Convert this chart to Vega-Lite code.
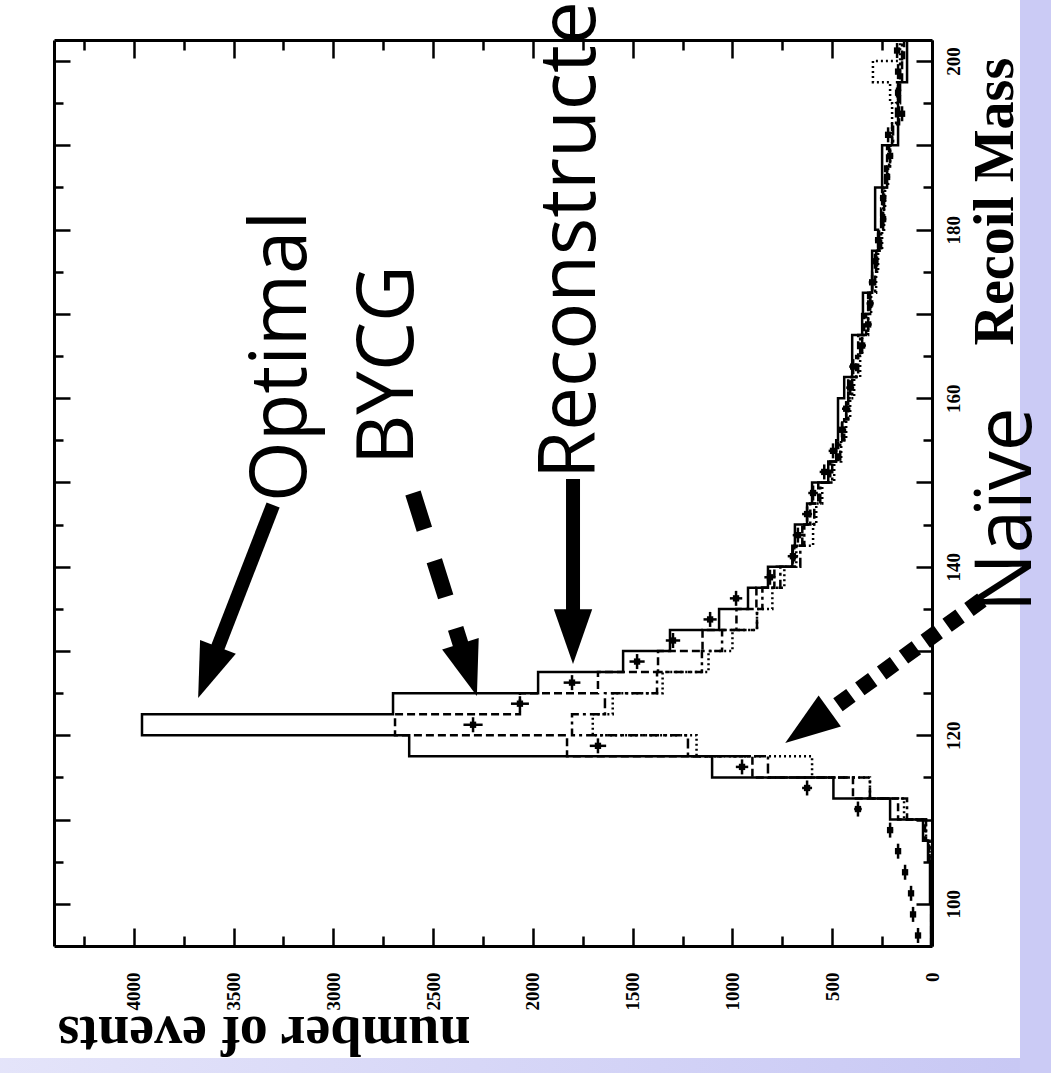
{
  "$schema": "https://vega.github.io/schema/vega-lite/v6.json",
  "autosize": "none",
  "width": 878,
  "height": 906,
  "padding": {"left": 54, "top": 40, "right": 119, "bottom": 127},
  "background": "white",
  "config": {
    "view": {"stroke": null},
    "axis": {
      "domainColor": "black", "domainWidth": 3, "tickColor": "black", "tickWidth": 2.5,
      "labelFont": "Liberation Serif", "labelFontWeight": "bold", "labelFontSize": 19, "labelColor": "black",
      "titleFont": "Liberation Serif", "titleFontWeight": "bold", "titleFontSize": 56, "titleColor": "black",
      "grid": false, "zindex": 1
    }
  },
  "resolve": {"axis": {"x": "independent", "y": "independent"}},
  "datasets": {
    "hist": [
      {"s":"optimal","m":95,"n":5},{"s":"optimal","m":97.5,"n":5},{"s":"optimal","m":100,"n":10},{"s":"optimal","m":102.5,"n":10},{"s":"optimal","m":105,"n":20},{"s":"optimal","m":107.5,"n":45},{"s":"optimal","m":110,"n":210},{"s":"optimal","m":112.5,"n":494},{"s":"optimal","m":115,"n":1102},{"s":"optimal","m":117.5,"n":2620},{"s":"optimal","m":120,"n":3959},{"s":"optimal","m":122.5,"n":2701},{"s":"optimal","m":125,"n":1974},{"s":"optimal","m":127.5,"n":1548},{"s":"optimal","m":130,"n":1313},{"s":"optimal","m":132.5,"n":1067},{"s":"optimal","m":135,"n":922},{"s":"optimal","m":137.5,"n":822},{"s":"optimal","m":140,"n":700},{"s":"optimal","m":142.5,"n":687},{"s":"optimal","m":145,"n":626},{"s":"optimal","m":147.5,"n":601},{"s":"optimal","m":150,"n":520},{"s":"optimal","m":152.5,"n":480},{"s":"optimal","m":155,"n":471},{"s":"optimal","m":157.5,"n":471},{"s":"optimal","m":160,"n":440},{"s":"optimal","m":162.5,"n":400},{"s":"optimal","m":165,"n":400},{"s":"optimal","m":167.5,"n":350},{"s":"optimal","m":170,"n":346},{"s":"optimal","m":172.5,"n":300},{"s":"optimal","m":175,"n":300},{"s":"optimal","m":177.5,"n":270},{"s":"optimal","m":180,"n":285},{"s":"optimal","m":182.5,"n":285},{"s":"optimal","m":185,"n":250},{"s":"optimal","m":187.5,"n":250},{"s":"optimal","m":190,"n":170},{"s":"optimal","m":192.5,"n":170},{"s":"optimal","m":195,"n":170},{"s":"optimal","m":197.5,"n":125},{"s":"optimal","m":200,"n":125},{"s":"optimal","m":202.5,"n":125},
      {"s":"bycg","m":95,"n":4},{"s":"bycg","m":97.5,"n":4},{"s":"bycg","m":100,"n":6},{"s":"bycg","m":102.5,"n":8},{"s":"bycg","m":105,"n":15},{"s":"bycg","m":107.5,"n":35},{"s":"bycg","m":110,"n":170},{"s":"bycg","m":112.5,"n":396},{"s":"bycg","m":115,"n":900},{"s":"bycg","m":117.5,"n":1829},{"s":"bycg","m":120,"n":2691},{"s":"bycg","m":122.5,"n":2065},{"s":"bycg","m":125,"n":1674},{"s":"bycg","m":127.5,"n":1373},{"s":"bycg","m":130,"n":1150},{"s":"bycg","m":132.5,"n":980},{"s":"bycg","m":135,"n":880},{"s":"bycg","m":137.5,"n":790},{"s":"bycg","m":140,"n":690},{"s":"bycg","m":142.5,"n":650},{"s":"bycg","m":145,"n":610},{"s":"bycg","m":147.5,"n":570},{"s":"bycg","m":150,"n":510},{"s":"bycg","m":152.5,"n":470},{"s":"bycg","m":155,"n":450},{"s":"bycg","m":157.5,"n":430},{"s":"bycg","m":160,"n":420},{"s":"bycg","m":162.5,"n":380},{"s":"bycg","m":165,"n":370},{"s":"bycg","m":167.5,"n":340},{"s":"bycg","m":170,"n":320},{"s":"bycg","m":172.5,"n":300},{"s":"bycg","m":175,"n":280},{"s":"bycg","m":177.5,"n":265},{"s":"bycg","m":180,"n":255},{"s":"bycg","m":182.5,"n":250},{"s":"bycg","m":185,"n":235},{"s":"bycg","m":187.5,"n":225},{"s":"bycg","m":190,"n":200},{"s":"bycg","m":192.5,"n":165},{"s":"bycg","m":195,"n":160},{"s":"bycg","m":197.5,"n":150},{"s":"bycg","m":200,"n":140},{"s":"bycg","m":202.5,"n":140},
      {"s":"dashdot","m":95,"n":3},{"s":"dashdot","m":97.5,"n":3},{"s":"dashdot","m":100,"n":5},{"s":"dashdot","m":102.5,"n":6},{"s":"dashdot","m":105,"n":12},{"s":"dashdot","m":107.5,"n":30},{"s":"dashdot","m":110,"n":125},{"s":"dashdot","m":112.5,"n":311},{"s":"dashdot","m":115,"n":822},{"s":"dashdot","m":117.5,"n":1223},{"s":"dashdot","m":120,"n":1804},{"s":"dashdot","m":122.5,"n":1639},{"s":"dashdot","m":125,"n":1378},{"s":"dashdot","m":127.5,"n":1153},{"s":"dashdot","m":130,"n":1052},{"s":"dashdot","m":132.5,"n":877},{"s":"dashdot","m":135,"n":850},{"s":"dashdot","m":137.5,"n":760},{"s":"dashdot","m":140,"n":660},{"s":"dashdot","m":142.5,"n":640},{"s":"dashdot","m":145,"n":590},{"s":"dashdot","m":147.5,"n":560},{"s":"dashdot","m":150,"n":500},{"s":"dashdot","m":152.5,"n":460},{"s":"dashdot","m":155,"n":440},{"s":"dashdot","m":157.5,"n":420},{"s":"dashdot","m":160,"n":400},{"s":"dashdot","m":162.5,"n":370},{"s":"dashdot","m":165,"n":360},{"s":"dashdot","m":167.5,"n":330},{"s":"dashdot","m":170,"n":310},{"s":"dashdot","m":172.5,"n":285},{"s":"dashdot","m":175,"n":275},{"s":"dashdot","m":177.5,"n":255},{"s":"dashdot","m":180,"n":245},{"s":"dashdot","m":182.5,"n":240},{"s":"dashdot","m":185,"n":225},{"s":"dashdot","m":187.5,"n":215},{"s":"dashdot","m":190,"n":195},{"s":"dashdot","m":192.5,"n":180},{"s":"dashdot","m":195,"n":175},{"s":"dashdot","m":197.5,"n":160},{"s":"dashdot","m":200,"n":150},{"s":"dashdot","m":202.5,"n":150},
      {"s":"naive","m":95,"n":3},{"s":"naive","m":97.5,"n":3},{"s":"naive","m":100,"n":5},{"s":"naive","m":102.5,"n":6},{"s":"naive","m":105,"n":12},{"s":"naive","m":107.5,"n":30},{"s":"naive","m":110,"n":140},{"s":"naive","m":112.5,"n":311},{"s":"naive","m":115,"n":601},{"s":"naive","m":117.5,"n":1180},{"s":"naive","m":120,"n":1700},{"s":"naive","m":122.5,"n":1600},{"s":"naive","m":125,"n":1350},{"s":"naive","m":127.5,"n":1120},{"s":"naive","m":130,"n":1000},{"s":"naive","m":132.5,"n":877},{"s":"naive","m":135,"n":800},{"s":"naive","m":137.5,"n":740},{"s":"naive","m":140,"n":680},{"s":"naive","m":142.5,"n":596},{"s":"naive","m":145,"n":580},{"s":"naive","m":147.5,"n":550},{"s":"naive","m":150,"n":490},{"s":"naive","m":152.5,"n":455},{"s":"naive","m":155,"n":430},{"s":"naive","m":157.5,"n":410},{"s":"naive","m":160,"n":390},{"s":"naive","m":162.5,"n":360},{"s":"naive","m":165,"n":350},{"s":"naive","m":167.5,"n":320},{"s":"naive","m":170,"n":305},{"s":"naive","m":172.5,"n":280},{"s":"naive","m":175,"n":270},{"s":"naive","m":177.5,"n":250},{"s":"naive","m":180,"n":240},{"s":"naive","m":182.5,"n":235},{"s":"naive","m":185,"n":220},{"s":"naive","m":187.5,"n":210},{"s":"naive","m":190,"n":200},{"s":"naive","m":192.5,"n":200},{"s":"naive","m":195,"n":210},{"s":"naive","m":197.5,"n":296},{"s":"naive","m":200,"n":160},{"s":"naive","m":202.5,"n":160}
    ],
    "pts": [
      {"m":96.25,"n":70,"e":8},{"m":98.75,"n":95,"e":10},{"m":101.25,"n":105,"e":10},{"m":103.75,"n":135,"e":12},{"m":106.25,"n":170,"e":13},{"m":108.75,"n":210,"e":15},{"m":111.25,"n":371,"e":19},{"m":113.75,"n":626,"e":25},{"m":116.25,"n":952,"e":31},{"m":118.75,"n":1674,"e":41},{"m":121.25,"n":2300,"e":48},{"m":123.75,"n":2065,"e":45},{"m":126.25,"n":1804,"e":42},{"m":128.75,"n":1478,"e":38},{"m":131.25,"n":1298,"e":36},{"m":133.75,"n":1112,"e":33},{"m":136.25,"n":982,"e":31},{"m":138.75,"n":812,"e":28},{"m":141.25,"n":697,"e":26},{"m":143.75,"n":672,"e":26},{"m":146.25,"n":626,"e":25},{"m":148.75,"n":596,"e":24},{"m":151.25,"n":540,"e":23},{"m":153.75,"n":496,"e":22},{"m":156.25,"n":451,"e":21},{"m":158.75,"n":430,"e":21},{"m":161.25,"n":410,"e":20},{"m":163.75,"n":395,"e":20},{"m":166.25,"n":350,"e":19},{"m":168.75,"n":320,"e":18},{"m":171.25,"n":310,"e":18},{"m":173.75,"n":300,"e":17},{"m":176.25,"n":286,"e":17},{"m":178.75,"n":270,"e":16},{"m":181.25,"n":245,"e":16},{"m":183.75,"n":245,"e":16},{"m":186.25,"n":225,"e":15},{"m":188.75,"n":210,"e":15},{"m":191.25,"n":220,"e":15},{"m":193.75,"n":150,"e":12},{"m":196.25,"n":170,"e":13},{"m":198.75,"n":170,"e":13},{"m":201.25,"n":175,"e":13}
    ],
    "arrows": [
      {"name":"Optimal","n0":3302,"m0":147.33,"n1":3628,"m1":127.46},
      {"name":"BYCG","n0":2601,"m0":148.75,"n1":2322,"m1":127.77},
      {"name":"Reconstructed","n0":1799,"m0":150.41,"n1":1799,"m1":131.72},
      {"name":"Naïve","n0":-250,"m0":136.05,"n1":624,"m1":120.99}
    ],
    "labels": [
      {"label":"Optimal","n":3137,"m":147.68},
      {"label":"BYCG","n":2601,"m":152.07},
      {"label":"Reconstructed","n":1689,"m":150.41},
      {"label":"Naïve","n":-498,"m":134.63}
    ],
    "stripRight": [{"x0": -441, "x1": -800, "y0": 60, "y1": 230}],
    "stripBottom": [{"x0": 5000, "x1": -441, "y0": 60, "y1": 81.7}]
  },
  "layer": [
    {
      "data": {"name": "stripRight"},
      "mark": {"type": "rect", "color": "#cbcbf5", "opacity": 1},
      "encoding": {
        "x": {"field": "x0", "type": "quantitative", "scale": {"domain": [0, 4400], "reverse": true, "nice": false, "zero": false},
              "axis": {"orient": "top", "values": [0,250,500,750,1000,1250,1500,1750,2000,2250,2500,2750,3000,3250,3500,3750,4000,4250], "labels": false, "title": null,
                       "tickSize": {"condition": {"test": "datum.value % 500 === 0", "value": -18}, "value": -10}}},
        "x2": {"field": "x1"},
        "y": {"field": "y0", "type": "quantitative", "scale": {"domain": [95, 202.5], "nice": false, "zero": false},
              "axis": {"orient": "left", "values": [100,105,110,115,120,125,130,135,140,145,150,155,160,165,170,175,180,185,190,195,200], "labels": false, "title": null,
                       "tickSize": {"condition": {"test": "datum.value % 10 === 0", "value": -16}, "value": -9}}},
        "y2": {"field": "y1"}
      }
    },
    {
      "data": {"name": "stripBottom"},
      "mark": {"type": "rect", "opacity": 1, "color": {"gradient": "linear", "x1": 0, "y1": 0, "x2": 1, "y2": 0, "stops": [{"offset": 0, "color": "#e6e6fa"}, {"offset": 1, "color": "#c8c8f4"}]}},
      "encoding": {
        "x": {"field": "x0", "type": "quantitative", "scale": {"domain": [0, 4400], "reverse": true, "nice": false, "zero": false}, "axis": null},
        "x2": {"field": "x1"},
        "y": {"field": "y0", "type": "quantitative", "scale": {"domain": [95, 202.5], "nice": false, "zero": false}, "axis": null},
        "y2": {"field": "y1"}
      }
    },
    {
      "data": {"name": "hist"},
      "mark": {"type": "line", "interpolate": "step-before", "strokeWidth": 2.5, "color": "black"},
      "encoding": {
        "x": {"field": "n", "type": "quantitative", "scale": {"domain": [0, 4400], "reverse": true, "nice": false, "zero": false},
              "axis": {"orient": "bottom", "values": [0,250,500,750,1000,1250,1500,1750,2000,2250,2500,2750,3000,3250,3500,3750,4000,4250],
                       "format": "d", "labelExpr": "datum.value % 500 === 0 ? datum.label : ''",
                       "labelAngle": -90, "labelAlign": "right", "labelBaseline": "middle", "labelPadding": 44,
                       "tickSize": {"condition": {"test": "datum.value % 500 === 0", "value": -18}, "value": -10},
                       "title": "number of events", "titleAngle": 180, "titleX": 416, "titleY": 70, "titleAlign": "left", "titleBaseline": "alphabetic"}},
        "y": {"field": "m", "type": "quantitative", "scale": {"domain": [95, 202.5], "nice": false, "zero": false},
              "axis": {"orient": "right", "values": [100,105,110,115,120,125,130,135,140,145,150,155,160,165,170,175,180,185,190,195,200],
                       "format": "d", "labelExpr": "datum.value % 20 === 0 ? datum.label : ''",
                       "labelAngle": -90, "labelAlign": "center", "labelBaseline": "top", "labelPadding": 28,
                       "tickSize": {"condition": {"test": "datum.value % 10 === 0", "value": -16}, "value": -9},
                       "title": "Recoil Mass", "titleAngle": -90, "titleX": 80, "titleY": 305, "titleAlign": "left", "titleBaseline": "alphabetic"}},
        "strokeDash": {"field": "s", "type": "nominal", "scale": {"domain": ["optimal", "bycg", "dashdot", "naive"], "range": [[1, 0], [8, 4], [10, 4, 3, 4], [2, 3]]}, "legend": null},
        "order": {"field": "m", "type": "quantitative"}
      }
    },
    {
      "data": {"name": "pts"},
      "mark": {"type": "errorbar", "color": "black", "thickness": 2.5},
      "encoding": {
        "x": {"field": "n", "type": "quantitative", "scale": {"domain": [0, 4400], "reverse": true, "nice": false, "zero": false}, "axis": null},
        "xError": {"field": "e"},
        "y": {"field": "m", "type": "quantitative", "scale": {"domain": [95, 202.5], "nice": false, "zero": false}, "axis": null}
      }
    },
    {
      "data": {"name": "pts"},
      "mark": {"type": "tick", "orient": "vertical", "color": "black", "thickness": 2.5, "size": 15, "opacity": 1},
      "encoding": {
        "x": {"field": "n", "type": "quantitative", "scale": {"domain": [0, 4400], "reverse": true, "nice": false, "zero": false}, "axis": null},
        "y": {"field": "m", "type": "quantitative", "scale": {"domain": [95, 202.5], "nice": false, "zero": false}, "axis": null}
      }
    },
    {
      "data": {"name": "pts"},
      "mark": {"type": "point", "shape": "square", "filled": true, "color": "black", "size": 40, "opacity": 1},
      "encoding": {
        "x": {"field": "n", "type": "quantitative", "scale": {"domain": [0, 4400], "reverse": true, "nice": false, "zero": false}, "axis": null},
        "y": {"field": "m", "type": "quantitative", "scale": {"domain": [95, 202.5], "nice": false, "zero": false}, "axis": null}
      }
    },
    {
      "data": {"name": "arrows"},
      "transform": [{"filter": "datum.name === 'Optimal' || datum.name === 'Reconstructed'"}],
      "mark": {"type": "rule", "color": "black", "strokeWidth": 14},
      "encoding": {
        "x": {"field": "n0", "type": "quantitative", "scale": {"domain": [0, 4400], "reverse": true, "nice": false, "zero": false}, "axis": null},
        "x2": {"field": "n1"},
        "y": {"field": "m0", "type": "quantitative", "scale": {"domain": [95, 202.5], "nice": false, "zero": false}, "axis": null},
        "y2": {"field": "m1"}
      }
    },
    {
      "data": {"name": "arrows"},
      "transform": [{"filter": "datum.name === 'BYCG'"}],
      "mark": {"type": "rule", "color": "black", "strokeWidth": 16, "strokeDash": [38, 33]},
      "encoding": {
        "x": {"field": "n0", "type": "quantitative", "scale": {"domain": [0, 4400], "reverse": true, "nice": false, "zero": false}, "axis": null},
        "x2": {"field": "n1"},
        "y": {"field": "m0", "type": "quantitative", "scale": {"domain": [95, 202.5], "nice": false, "zero": false}, "axis": null},
        "y2": {"field": "m1"}
      }
    },
    {
      "data": {"name": "arrows"},
      "transform": [{"filter": "datum.name === 'Naïve'"}],
      "mark": {"type": "rule", "color": "black", "strokeWidth": 16, "strokeDash": [16, 11]},
      "encoding": {
        "x": {"field": "n0", "type": "quantitative", "scale": {"domain": [0, 4400], "reverse": true, "nice": false, "zero": false}, "axis": null},
        "x2": {"field": "n1"},
        "y": {"field": "m0", "type": "quantitative", "scale": {"domain": [95, 202.5], "nice": false, "zero": false}, "axis": null},
        "y2": {"field": "m1"}
      }
    },
    {
      "data": {"name": "arrows"},
      "transform": [{"filter": "datum.name === 'Optimal'"}],
      "mark": {"type": "point", "shape": "M0,-1L0.7,1L-0.7,1Z", "filled": true, "color": "black", "opacity": 1, "size": 3000, "angle": 201.2},
      "encoding": {
        "x": {"field": "n1", "type": "quantitative", "scale": {"domain": [0, 4400], "reverse": true, "nice": false, "zero": false}, "axis": null},
        "y": {"field": "m1", "type": "quantitative", "scale": {"domain": [95, 202.5], "nice": false, "zero": false}, "axis": null}
      }
    },
    {
      "data": {"name": "arrows"},
      "transform": [{"filter": "datum.name === 'BYCG'"}],
      "mark": {"type": "point", "shape": "M0,-1L0.7,1L-0.7,1Z", "filled": true, "color": "black", "opacity": 1, "size": 3000, "angle": 162.5},
      "encoding": {
        "x": {"field": "n1", "type": "quantitative", "scale": {"domain": [0, 4400], "reverse": true, "nice": false, "zero": false}, "axis": null},
        "y": {"field": "m1", "type": "quantitative", "scale": {"domain": [95, 202.5], "nice": false, "zero": false}, "axis": null}
      }
    },
    {
      "data": {"name": "arrows"},
      "transform": [{"filter": "datum.name === 'Reconstructed'"}],
      "mark": {"type": "point", "shape": "M0,-1L0.7,1L-0.7,1Z", "filled": true, "color": "black", "opacity": 1, "size": 3000, "angle": 180},
      "encoding": {
        "x": {"field": "n1", "type": "quantitative", "scale": {"domain": [0, 4400], "reverse": true, "nice": false, "zero": false}, "axis": null},
        "y": {"field": "m1", "type": "quantitative", "scale": {"domain": [95, 202.5], "nice": false, "zero": false}, "axis": null}
      }
    },
    {
      "data": {"name": "arrows"},
      "transform": [{"filter": "datum.name === 'Naïve'"}],
      "mark": {"type": "point", "shape": "M0,-1L0.7,1L-0.7,1Z", "filled": true, "color": "black", "opacity": 1, "size": 3000, "angle": 234.4},
      "encoding": {
        "x": {"field": "n1", "type": "quantitative", "scale": {"domain": [0, 4400], "reverse": true, "nice": false, "zero": false}, "axis": null},
        "y": {"field": "m1", "type": "quantitative", "scale": {"domain": [95, 202.5], "nice": false, "zero": false}, "axis": null}
      }
    },
    {
      "data": {"name": "labels"},
      "mark": {"type": "text", "angle": -90, "align": "left", "baseline": "alphabetic", "font": "Open Sans", "fontSize": 78, "color": "black"},
      "encoding": {
        "x": {"field": "n", "type": "quantitative", "scale": {"domain": [0, 4400], "reverse": true, "nice": false, "zero": false}, "axis": null},
        "y": {"field": "m", "type": "quantitative", "scale": {"domain": [95, 202.5], "nice": false, "zero": false}, "axis": null},
        "text": {"field": "label", "type": "nominal"}
      }
    }
  ]
}
